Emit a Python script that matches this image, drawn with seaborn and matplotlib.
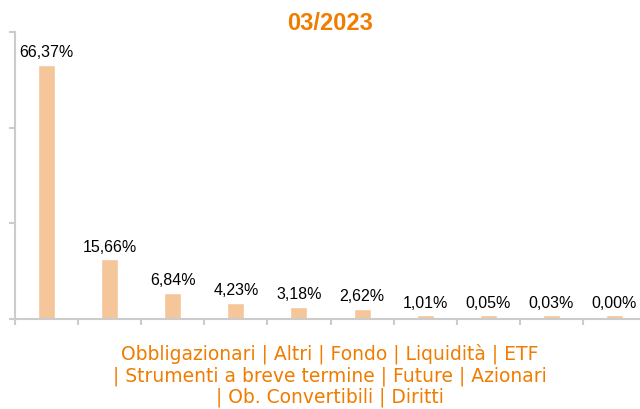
import numpy as np
import pandas as pd
import matplotlib
matplotlib.use('Agg')
import matplotlib.pyplot as plt
import seaborn as sns

# --- data ---
categories = ['Obbligazionari', 'Altri', 'Fondo', 'Liquidità', 'ETF',
              'Strumenti a breve termine', 'Future', 'Azionari',
              'Ob. Convertibili', 'Diritti']
values = [66.37, 15.66, 6.84, 4.23, 3.18, 2.62, 1.01, 0.05, 0.03, 0.00]
title = '03/2023'

orange = '#F07C00'
bar_color = '#F6C69B'
axis_gray = '#CCCCCC'

df = pd.DataFrame({'cat': categories, 'val': values})
# tiny shares still get a visible stub, like the original chart does
df['shown'] = np.maximum(df['val'], 1.0)

sns.set_style('white')
plt.rcParams['font.family'] = ['Liberation Sans', 'DejaVu Sans']

fig = plt.figure(figsize=(6.4, 4.1), dpi=100)
ax = fig.add_axes([15 / 640, 90 / 410, 631 / 640, 287 / 410])

sns.barplot(data=df, x='cat', y='shown', color=bar_color, width=0.27,
            saturation=1, ax=ax)

for i, v in enumerate(df['val']):
    ax.annotate(f'{v:.2f}%'.replace('.', ','), (i, df['shown'][i]),
                xytext=(0, 4), textcoords='offset points',
                ha='center', va='bottom', fontsize=11.5, color='black')

ax.set_ylim(0, 75)
ax.set_xlim(-0.5, len(categories) - 0.5)
ax.set_yticks([0, 25, 50, 75], labels=[])
ax.set_xticks(np.arange(-0.5, len(categories)), labels=[])
ax.tick_params(axis='y', direction='out', length=4.5, width=1.5, color=axis_gray, left=True)
ax.tick_params(axis='x', direction='out', length=4, width=1.5, color=axis_gray, bottom=True)
for side in ['top', 'right']:
    ax.spines[side].set_visible(False)
for side in ['left', 'bottom']:
    ax.spines[side].set_color(axis_gray)
    ax.spines[side].set_linewidth(1.5)
ax.set_ylabel('')
ax.set_xlabel('')

lines = [' | '.join(categories[:5]),
         '| ' + ' | '.join(categories[5:8]),
         '| ' + ' | '.join(categories[8:])]
fig.text(330 / 640, 1 - 344 / 410, '\n'.join(lines), ha='center', va='top',
         fontsize=13.5, color=orange, family='DejaVu Sans', linespacing=1.12)

fig.text(330 / 640, 1 - 23 / 410, title, ha='center', va='center',
         fontsize=17, fontweight='bold', color=orange)

fig.savefig('out.png', dpi=100)
plt.close(fig)
